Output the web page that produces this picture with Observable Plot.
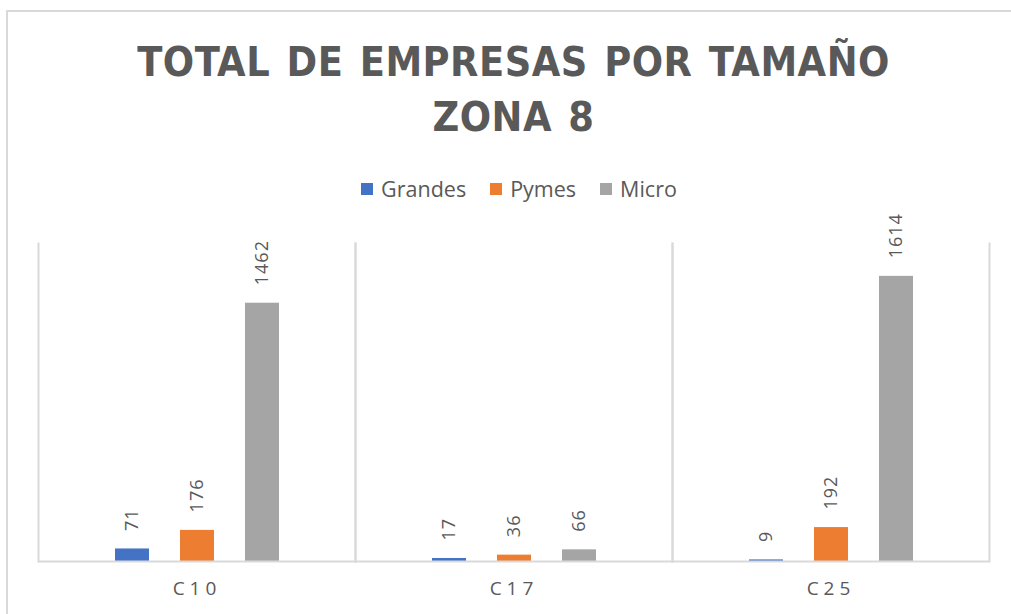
<!DOCTYPE html>
<html>
<head>
<meta charset="utf-8">
<script src="https://cdn.jsdelivr.net/npm/d3@7"></script>
<script src="https://cdn.jsdelivr.net/npm/@observablehq/plot@0.6"></script>
<style>
  html, body { margin: 0; padding: 0; background: #fff; }
  #wrap { position: relative; width: 1011px; height: 614px; overflow: hidden; background: #fff; }
  #frame { position: absolute; left: 6px; top: 10px; width: 1100px; height: 700px;
           border-top: 2px solid #d9d9d9; border-left: 2px solid #d9d9d9; }
  #title { position: absolute; left: 0; width: 1027px; top: 35px; text-align: center;
           font-family: "DejaVu Sans Condensed", "Liberation Sans Narrow", Lato, sans-serif;
           font-weight: bold; font-size: 41px; line-height: 55px; color: #595959; letter-spacing: 0.5px; word-spacing: 3px; }
  #legend { position: absolute; left: 0; width: 1038px; top: 174px; display: flex; justify-content: center;
            font-family: "Open Sans", sans-serif; font-size: 21.5px; color: #595959; }
  .item { display: flex; align-items: center; margin: 0 12px; }
  .sw { width: 12px; height: 12px; margin-right: 8px; }
  #chart { position: absolute; left: 0; top: 230px; }
  #chart svg { overflow: visible; }
  g[aria-label="fx-axis tick label"] text { letter-spacing: 5px; }
  g[aria-label="text"] text { letter-spacing: 1px; }
</style>
</head>
<body>
<div id="wrap">
  <div id="frame"></div>
  <div id="title">TOTAL DE EMPRESAS POR TAMAÑO<br>ZONA 8</div>
  <div id="legend"></div>
  <div id="chart"></div>
</div>
<script>
const categories = ["C10", "C17", "C25"];
const series = ["Grandes", "Pymes", "Micro"];
const grandes = [71, 17, 9];
const pymes = [176, 36, 192];
const micro = [1462, 66, 1614];
const colors = ["#4472C4", "#ED7D31", "#A5A5A5"];

const valuesBySeries = [grandes, pymes, micro];
const data = categories.flatMap((c, i) =>
  series.map((s, j) => ({cat: c, series: s, value: valuesBySeries[j][i]}))
);

// legend
const legend = document.getElementById("legend");
series.forEach((s, j) => {
  const item = document.createElement("div");
  item.className = "item";
  const sw = document.createElement("span");
  sw.className = "sw";
  sw.style.background = colors[j];
  const lab = document.createElement("span");
  lab.textContent = s;
  item.appendChild(sw);
  item.appendChild(lab);
  legend.appendChild(item);
});

const chart = Plot.plot({
  width: 1011,
  height: 384,
  marginLeft: 37,
  marginRight: 21,
  marginTop: 13,
  marginBottom: 53,
  style: {fontFamily: "Open Sans, sans-serif", fontSize: "19px", color: "#595959", background: "transparent", overflow: "visible"},
  fx: {domain: categories, padding: 0, label: null, axis: "bottom", tickSize: 0, tickPadding: 20},
  x: {domain: series, paddingInner: 0.48, paddingOuter: 1.17, axis: null},
  y: {domain: [0, 1800], axis: null},
  color: {domain: series, range: colors},
  marks: [
    Plot.frame({anchor: "left", stroke: "#d9d9d9", strokeWidth: 2}),
    Plot.frame({anchor: "right", stroke: "#d9d9d9", strokeWidth: 2}),
    Plot.barY(data, {fx: "cat", x: "series", y: "value", fill: "series"}),
    Plot.ruleY([0], {stroke: "#d9d9d9", strokeWidth: 2}),
    Plot.text(data, {fx: "cat", x: "series", y: "value", text: d => String(d.value),
      rotate: -90, textAnchor: "start", dy: -18, fill: "#595959", fontSize: 18})
  ]
});
document.getElementById("chart").appendChild(chart);
</script>
</body>
</html>
